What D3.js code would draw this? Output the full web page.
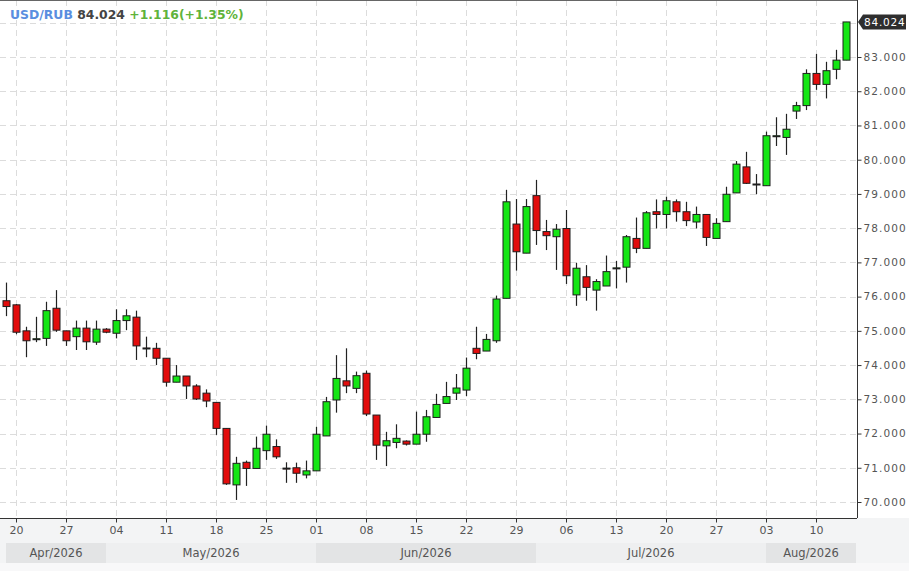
<!DOCTYPE html>
<html>
<head>
<meta charset="utf-8">
<script src="https://cdn.jsdelivr.net/npm/d3@7"></script>
<style>
  html, body { margin: 0; padding: 0; background: #fff; }
  svg { display: block; font-family: "DejaVu Sans", sans-serif; }
</style>
</head>
<body>
<div id="chart"></div>
<script>
const width = 909, height = 571;

// trading days, Fri 17 Apr 2026 .. Thu 13 Aug 2026 (weekdays only)
const firstDay = new Date(2026, 3, 17), lastDay = new Date(2026, 7, 13);
const days = d3.timeDay.range(firstDay, d3.timeDay.offset(lastDay, 1))
    .filter(d => d.getDay() !== 0 && d.getDay() !== 6);

const open = [75.88,75.76,75.00,74.76,74.78,75.66,75.00,74.83,75.08,74.67,
    75.05,74.93,75.30,75.40,74.50,74.49,74.20,73.50,73.68,73.39,
    73.18,72.91,72.15,70.50,71.16,70.98,71.50,71.62,70.99,71.00,
    70.79,70.91,71.93,72.98,73.54,73.32,73.76,72.54,71.64,71.74,
    71.78,71.69,71.98,72.47,72.88,73.18,73.27,74.49,74.41,74.71,
    75.95,78.12,77.27,78.95,77.90,77.75,77.99,76.05,76.58,76.19,
    76.31,76.83,76.86,77.70,77.41,78.48,78.40,78.77,78.48,78.18,
    78.40,77.70,78.19,79.03,79.79,79.28,79.24,80.69,80.65,81.42,
    81.58,82.52,82.20,82.64,82.908];
const high = [76.41,75.78,75.12,75.41,75.85,76.19,75.00,75.30,75.30,75.30,
    75.08,75.63,75.63,75.59,74.83,74.65,74.20,74.00,73.68,73.44,
    73.29,72.91,72.15,71.32,71.21,71.91,72.23,71.83,71.16,71.15,
    71.21,72.20,73.07,74.29,74.49,73.81,73.84,72.54,72.05,72.27,
    71.80,72.64,72.69,73.16,73.51,73.74,74.22,75.12,74.91,76.03,
    79.12,78.85,78.85,79.41,78.24,78.12,78.53,76.99,76.92,76.51,
    77.20,77.04,77.80,78.31,78.50,78.84,78.92,78.84,78.77,78.63,
    78.40,78.29,79.21,79.96,80.23,79.58,80.82,81.24,81.34,81.69,
    82.64,83.09,82.86,83.21,84.024];
const low = [75.43,74.90,74.23,74.67,74.56,74.97,74.56,74.44,74.44,74.59,
    74.93,74.78,75.02,74.15,74.23,74.00,73.37,73.50,73.01,72.98,
    72.77,71.96,70.50,70.06,70.47,70.98,71.23,71.26,70.56,70.56,
    70.69,70.91,71.93,72.61,73.18,73.18,72.51,71.23,71.05,71.57,
    71.65,71.69,71.76,72.46,72.88,72.98,73.09,74.17,74.41,74.65,
    75.95,76.76,77.27,77.51,77.36,76.78,76.37,75.73,75.88,75.59,
    76.31,76.24,76.41,77.27,77.41,77.99,77.99,78.19,78.06,77.99,
    77.48,77.70,78.19,79.03,79.29,78.99,79.24,80.40,80.14,81.19,
    81.45,82.04,81.79,82.35,82.908];
const close = [75.71,74.96,74.71,74.77,75.59,75.02,74.71,75.08,74.68,75.05,
    74.96,75.30,75.44,74.56,74.49,74.20,73.50,73.68,73.39,73.01,
    72.95,72.15,70.53,71.13,70.98,71.57,71.98,71.32,70.98,70.84,
    70.91,71.98,72.93,73.61,73.39,73.69,72.57,71.66,71.79,71.86,
    71.69,71.98,72.49,72.85,73.08,73.33,73.91,74.34,74.75,75.93,
    78.77,77.31,78.63,77.93,77.78,77.97,76.61,76.83,76.27,76.44,
    76.73,76.84,77.75,77.41,78.45,78.40,78.80,78.48,78.22,78.40,
    77.73,78.14,78.99,79.87,79.31,79.29,80.70,80.70,80.89,81.58,
    82.52,82.20,82.60,82.908,84.024];

const priceTicks = d3.range(70, 85);
const symbol = "USD/RUB", lastPrice = "84.024", change = "+1.116(+1.35%)";

const plotRight = 857, plotBottom = 518;

const x = d3.scaleLinear().domain([0, days.length - 1]).range([6, 846]);
const y = d3.scaleLinear().domain([70, 83]).range([502, 57]);

const svg = d3.select("#chart")
    .append("svg")
    .attr("width", width)
    .attr("height", height)
    .attr("viewBox", [0, 0, width, height]);

// backgrounds
svg.append("rect").attr("width", width).attr("height", height).attr("fill", "#fff");
svg.append("rect")
    .attr("x", 0).attr("y", plotBottom)
    .attr("width", width).attr("height", height - plotBottom)
    .attr("fill", "#f3f4f5");
svg.append("rect")
    .attr("x", 0).attr("y", 563)
    .attr("width", width).attr("height", 8)
    .attr("fill", "#f8f8f9");

// month bands
const monthStarts = d3.range(days.length).filter(i => i === 0 || days[i].getMonth() !== days[i - 1].getMonth());
const months = monthStarts.map((s, k) => ({
    x0: x(s),
    x1: k < monthStarts.length - 1 ? x(monthStarts[k + 1]) : plotRight - 1,
    label: d3.timeFormat("%b/%Y")(days[s]),
    shade: k % 2 === 0
}));

svg.append("g").selectAll("rect")
    .data(months)
    .join("rect")
    .attr("x", d => d.x0)
    .attr("y", 543)
    .attr("width", d => d.x1 - d.x0)
    .attr("height", 20)
    .attr("fill", d => d.shade ? "#e3e4e5" : "#eeeff0");

svg.append("g").selectAll("text")
    .data(months)
    .join("text")
    .attr("x", d => (d.x0 + d.x1) / 2)
    .attr("y", 557)
    .attr("text-anchor", "middle")
    .attr("font-size", 11.5)
    .attr("fill", "#555")
    .text(d => d.label);

// grid
const mondays = d3.range(days.length).filter(i => days[i].getDay() === 1);

const grid = svg.append("g")
    .attr("stroke", "#dcdcdc")
    .attr("stroke-dasharray", "6,4")
    .attr("stroke-width", 1);

grid.selectAll(".hg")
    .data(priceTicks)
    .join("line")
    .attr("class", "hg")
    .attr("x1", 0).attr("x2", plotRight)
    .attr("y1", d => Math.round(y(d)) + 0.5)
    .attr("y2", d => Math.round(y(d)) + 0.5);

grid.selectAll(".vg")
    .data(mondays)
    .join("line")
    .attr("class", "vg")
    .attr("y1", 0).attr("y2", plotBottom)
    .attr("x1", d => Math.round(x(d)) + 0.5)
    .attr("x2", d => Math.round(x(d)) + 0.5);

// candles
const candles = svg.append("g")
    .selectAll("g")
    .data(days.map((d, i) => ({ i, o: open[i], h: high[i], l: low[i], c: close[i] })))
    .join("g");

candles.append("line")
    .attr("x1", d => Math.round(x(d.i)) + 0.5)
    .attr("x2", d => Math.round(x(d.i)) + 0.5)
    .attr("y1", d => y(d.h))
    .attr("y2", d => y(d.l))
    .attr("stroke", "#222")
    .attr("stroke-width", 1.2);

candles.append("rect")
    .attr("x", d => Math.round(x(d.i)) - 3)
    .attr("width", 7)
    .attr("y", d => y(Math.max(d.o, d.c)))
    .attr("height", d => Math.max(1, Math.abs(y(d.o) - y(d.c))))
    .attr("fill", d => d.c >= d.o ? "#14e614" : "#e20c0c")
    .attr("stroke", "#1e1e1e")
    .attr("stroke-width", 1);

// axes
const yAxis = d3.axisRight(y)
    .tickValues(priceTicks)
    .tickSize(4)
    .tickPadding(2)
    .tickFormat(d3.format(".3f"));

const ya = svg.append("g")
    .attr("transform", `translate(${plotRight + 0.5},0)`)
    .call(yAxis);
ya.select(".domain").attr("d", `M0,0V${plotBottom}`).attr("stroke", "#333");
ya.selectAll(".tick line").attr("stroke", "#333");
ya.selectAll(".tick text")
    .attr("font-family", "DejaVu Sans, sans-serif")
    .attr("font-size", 10.5)
    .attr("letter-spacing", 1.1)
    .attr("fill", "#555");
ya.selectAll(".tick").filter(d => d === 84).remove();

const xAxis = d3.axisBottom(x)
    .tickValues(mondays)
    .tickSize(4)
    .tickPadding(4)
    .tickFormat(i => d3.timeFormat("%d")(days[i]));

const xa = svg.append("g")
    .attr("transform", `translate(0,${plotBottom + 0.5})`)
    .call(xAxis);
xa.select(".domain").attr("d", `M0,0H${plotRight}`).attr("stroke", "#333");
xa.selectAll(".tick line").attr("stroke", "#333");
xa.selectAll(".tick text")
    .attr("font-family", "DejaVu Sans, sans-serif")
    .attr("font-size", 11)
    .attr("fill", "#555");

// top border
svg.append("line")
    .attr("x1", 0).attr("x2", plotRight)
    .attr("y1", 0.5).attr("y2", 0.5)
    .attr("stroke", "#666");

// last price marker
const ly = y(close[close.length - 1]);
svg.append("path")
    .attr("d", `M${plotRight + 1},${ly} L${plotRight + 6},${ly - 7.5} H${width - 3} V${ly + 7.5} H${plotRight + 6} Z`)
    .attr("fill", "#2e2e2e");
svg.append("text")
    .attr("x", plotRight + 7)
    .attr("y", ly + 4)
    .attr("font-size", 10.5)
    .attr("letter-spacing", 0.8)
    .attr("fill", "#fff")
    .text(lastPrice);

// header
const header = svg.append("text")
    .attr("x", 10)
    .attr("y", 18.5)
    .attr("font-size", 12.4)
    .attr("font-weight", "bold");
header.append("tspan").attr("fill", "#5a8ee0").text(symbol + " ");
header.append("tspan").attr("fill", "#444").text(lastPrice + " ");
header.append("tspan").attr("fill", "#5fb33a").text(change);
</script>
</body>
</html>
